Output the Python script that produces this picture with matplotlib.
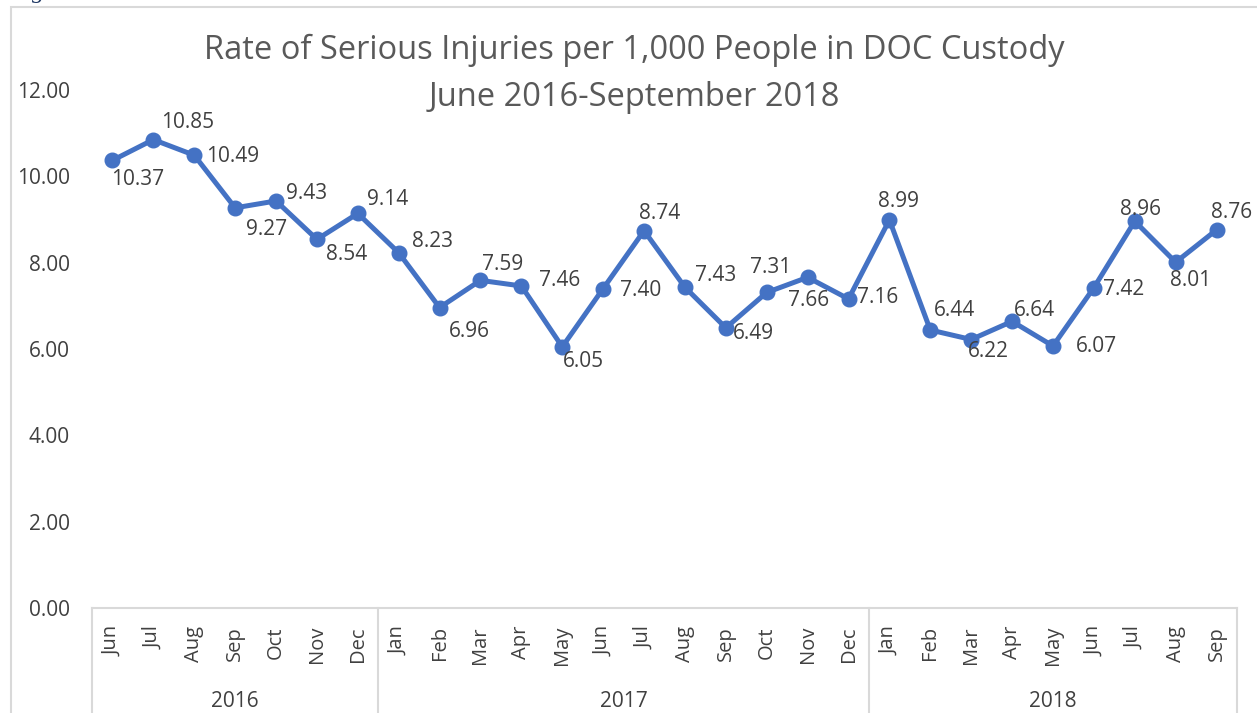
import matplotlib.pyplot as plt
from matplotlib.patches import Rectangle

# data
months = ['Jun', 'Jul', 'Aug', 'Sep', 'Oct', 'Nov', 'Dec',
          'Jan', 'Feb', 'Mar', 'Apr', 'May', 'Jun', 'Jul', 'Aug', 'Sep', 'Oct', 'Nov', 'Dec',
          'Jan', 'Feb', 'Mar', 'Apr', 'May', 'Jun', 'Jul', 'Aug', 'Sep']
rates = [10.37, 10.85, 10.49, 9.27, 9.43, 8.54, 9.14,
         8.23, 6.96, 7.59, 7.46, 6.05, 7.40, 8.74, 7.43, 6.49, 7.31, 7.66, 7.16,
         8.99, 6.44, 6.22, 6.64, 6.07, 7.42, 8.96, 8.01, 8.76]
years = ['2016', '2017', '2018']
year_counts = [7, 12, 9]

# label centre offsets from each point, in pixels (right, up)
label_dx = [25, 34, 38, 31, 31, 30, 30,
            34, 30, 22, 38, 21, 37, 16, 31, 28, 4, 1, 29,
            9, 24, 17, 22, 43, 30, 6, 15, 15]
label_dy = [-19, 17, -1, -22, 7, -15, 14,
            11, -24, 16, 5, -15, -2, 17, 12, -6, 25, -23, 1,
            18, 20, -12, 11, -1, -2, 12, -18, 17]

plt.rcParams['font.family'] = ['Open Sans', 'DejaVu Sans']
txt_color = '#404040'
blue = '#4472C4'
grey = '#d9d9d9'
px = 72 / 100  # pixels -> points

fig = plt.figure(figsize=(12.57, 7.13), dpi=100)
# outer chart border
fig.patches.append(Rectangle((11 / 1257, -0.1), 1.2, 1 - 7 / 713 + 0.1, transform=fig.transFigure,
                             fill=False, edgecolor=grey, linewidth=1.5))
# bit of the caption above the chart, cut off by the crop
fig.text(38 / 1257, 1 + 8 / 713, 'g', ha='center', va='center', fontsize=18,
         family='Liberation Serif', style='italic', color='#1f3864')

ax = fig.add_axes([92 / 1257, 1 - 608 / 713, 1145 / 1257, 518 / 713])
x = list(range(len(rates)))
ax.plot(x, rates, color=blue, linewidth=3.6, marker='o', markersize=10.5, clip_on=False)

for i, v in enumerate(rates):
    ax.annotate(f'{v:.2f}', (i, v), xytext=(label_dx[i] * px, label_dy[i] * px),
                textcoords='offset points', ha='center', va='center',
                fontsize=15, color=txt_color, annotation_clip=False)

ax.set_xlim(-0.5, len(rates) - 0.5)
ax.set_ylim(0, 12)
ticks = [0, 2, 4, 6, 8, 10, 12]
ax.set_yticks(ticks)
ax.set_yticklabels([f'{t:.2f}' for t in ticks], fontsize=15, color=txt_color)
ax.tick_params(axis='y', length=0, pad=16)
ax.set_xticks([])
for s in ['top', 'right', 'left']:
    ax.spines[s].set_visible(False)
ax.spines['bottom'].set_color(grey)
ax.spines['bottom'].set_linewidth(1.5)

tr = ax.get_xaxis_transform()
for i, m in enumerate(months):
    ax.annotate(m, (i, 0), xycoords=tr, xytext=(0, -13), textcoords='offset points',
                rotation=90, ha='center', va='top', fontsize=14.5, color=txt_color)

start = 0
bounds = [-0.5]
for y, n in zip(years, year_counts):
    mid = start + (n - 1) / 2
    ax.annotate(y, (mid, 0), xycoords=tr, xytext=(0, -67), textcoords='offset points',
                ha='center', va='center', fontsize=15, color=txt_color)
    start += n
    bounds.append(start - 0.5)
for b in bounds:
    ax.plot([b, b], [0, -0.25], transform=tr, color=grey, linewidth=1.5, clip_on=False)

fig.text(634 / 1257, 1 - 50 / 713, 'Rate of Serious Injuries per 1,000 People in DOC Custody',
         ha='center', va='center', fontsize=23.5, color='#595959')
fig.text(634 / 1257, 1 - 97 / 713, 'June 2016-September 2018',
         ha='center', va='center', fontsize=23.5, color='#595959')

fig.savefig('out.png', dpi=100)
